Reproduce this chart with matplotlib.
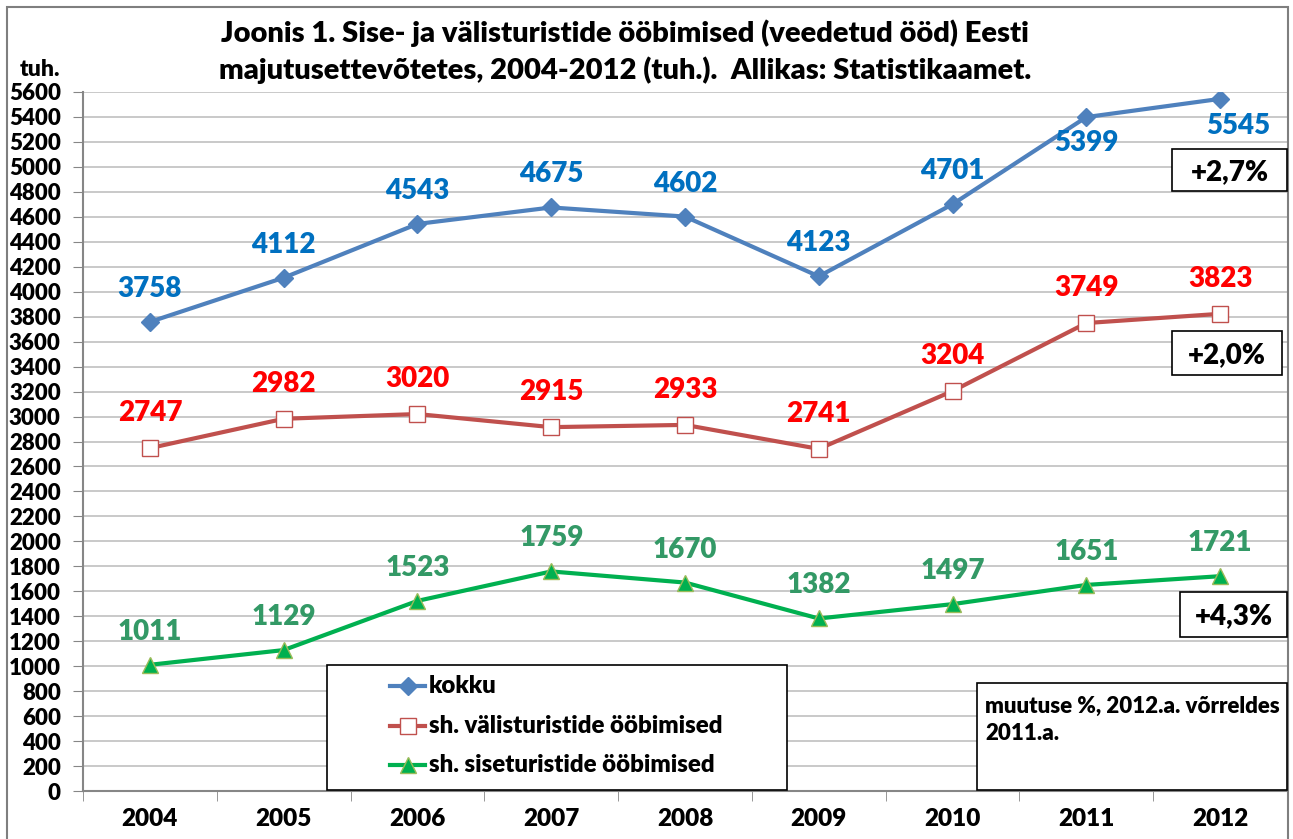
import matplotlib
matplotlib.use("Agg")
import matplotlib.pyplot as plt
from matplotlib.patches import Rectangle
from matplotlib.lines import Line2D

plt.rcParams["font.family"] = ["Lato", "DejaVu Sans"]
plt.rcParams["font.weight"] = "heavy"

years = ["2004", "2005", "2006", "2007", "2008", "2009", "2010", "2011", "2012"]
kokku = [3758, 4112, 4543, 4675, 4602, 4123, 4701, 5399, 5545]
valis = [2747, 2982, 3020, 2915, 2933, 2741, 3204, 3749, 3823]
sise = [1011, 1129, 1523, 1759, 1670, 1382, 1497, 1651, 1721]
series_names = ["kokku", "sh. välisturistide ööbimised", "sh. siseturistide ööbimised"]
changes = ["+2,7%", "+2,0%", "+4,3%"]

title = ("Joonis 1. Sise- ja välisturistide ööbimised (veedetud ööd) Eesti\n"
         "majutusettevõtetes, 2004-2012 (tuh.).  Allikas: Statistikaamet.")
note = "muutuse %, 2012.a. võrreldes\n2011.a."

W, H = 1293, 839
WEIGHT = "heavy"
fig = plt.figure(figsize=(W / 100, H / 100), dpi=100)


def fx(px):
    return px / W


def fy(py):
    return 1 - py / H


def fig_box(x0, y0, x1, y1, **kw):
    # pixel box (top-left origin) -> figure rectangle
    r = Rectangle((fx(x0), fy(y1)), fx(x1) - fx(x0), fy(y0) - fy(y1),
                  transform=fig.transFigure, **kw)
    fig.patches.append(r)
    return r


# outer chart border
fig_box(7, 7, 1288, 845, fill=False, edgecolor="#7f7f7f", linewidth=1.5)

ax = fig.add_axes([fx(83), fy(791), fx(1287) - fx(83), fy(92) - fy(791)])
x = list(range(len(years)))
ax.set_xlim(-0.5, len(years) - 0.5)
ax.set_ylim(0, 5600)
ax.set_yticks(range(0, 5601, 200))
ax.set_xticks(x)
ax.set_xticklabels(years)
ax.set_xticks([i + 0.5 for i in range(-1, len(years))], minor=True)
ax.tick_params(axis="x", which="major", length=0, pad=12, labelsize=17.5)
ax.tick_params(axis="x", which="minor", length=7, color="#868686", direction="out")
ax.tick_params(axis="y", length=7, color="#868686", labelsize=16, pad=9)
for lab in ax.get_xticklabels() + ax.get_yticklabels():
    lab.set_fontweight(WEIGHT)
ax.grid(axis="y", color="#c0c0c0", linewidth=1.2)
ax.set_axisbelow(True)
for s in ["top", "right"]:
    ax.spines[s].set_visible(False)
for s in ["left", "bottom"]:
    ax.spines[s].set_color("#868686")
    ax.spines[s].set_linewidth(1.5)

styles = [
    dict(color="#4f81bd", linewidth=3, marker="D", markersize=9,
         markerfacecolor="#4f81bd", markeredgecolor="#4f81bd"),
    dict(color="#c0504d", linewidth=3, marker="s", markersize=12,
         markerfacecolor="white", markeredgecolor="#c0504d", markeredgewidth=1),
    dict(color="#00b050", linewidth=3, marker="^", markersize=11,
         markerfacecolor="#00b050", markeredgecolor="#9bbb59", markeredgewidth=1),
]
for vals, st in zip([kokku, valis, sise], styles):
    ax.plot(x, vals, **st)

label_kw = dict(textcoords="offset pixels", ha="center", va="center",
                fontsize=20, fontweight=WEIGHT)
for i, v in enumerate(kokku):
    off = (0, 33)
    if i == 7:
        off = (0, -26)
    elif i == 8:
        off = (18, -27)
    ax.annotate(str(v), (i, v), xytext=off, color="#0070c0", **label_kw)
for i, v in enumerate(valis):
    ax.annotate(str(v), (i, v), xytext=(0, 35), color="#ff0000", **label_kw)
for i, v in enumerate(sise):
    ax.annotate(str(v), (i, v), xytext=(0, 33), color="#339966", **label_kw)

# change boxes
boxes = [(1172, 149, 1287, 191), (1172, 331, 1282, 375), (1180, 592, 1287, 637)]
for (x0, y0, x1, y1), txt in zip(boxes, changes):
    fig_box(x0, y0, x1, y1, facecolor="white", edgecolor="black", linewidth=1.2, zorder=5)
    fig.text(fx((x0 + x1) / 2), fy((y0 + y1) / 2 + 2), txt, ha="center", va="center",
             fontsize=20, fontweight=WEIGHT, zorder=6)

# note box
fig_box(977, 683, 1287, 790, facecolor="white", edgecolor="black", linewidth=1.2, zorder=5)
fig.text(fx(985), fy(720), note, ha="left", va="center", fontsize=16,
         fontweight=WEIGHT, linespacing=1.4, zorder=6)

# legend, drawn by hand to match the original box
fig_box(327, 665, 787, 790, facecolor="white", edgecolor="black", linewidth=1.2, zorder=5)
leg_rows = [686, 726, 765]
for name, st, ry in zip(series_names, styles, leg_rows):
    fig.add_artist(Line2D([fx(390), fx(425)], [fy(ry), fy(ry)], transform=fig.transFigure,
                          zorder=6, **{k: v for k, v in st.items() if k != "marker"}))
    fig.add_artist(Line2D([fx(407.5)], [fy(ry)], transform=fig.transFigure, zorder=7,
                          linestyle="none",
                          **{k: v for k, v in st.items() if k != "linewidth"}))
    fig.text(fx(429), fy(ry), name, ha="left", va="center", fontsize=17.3,
             fontweight=WEIGHT, zorder=7)

fig.text(fx(625), fy(52), title, ha="center", va="center", fontsize=21,
         fontweight=WEIGHT, linespacing=1.4)
fig.text(fx(40), fy(70), "tuh.", ha="center", va="center", fontsize=16.5, fontweight=WEIGHT)

fig.savefig("out.png", dpi=100)
